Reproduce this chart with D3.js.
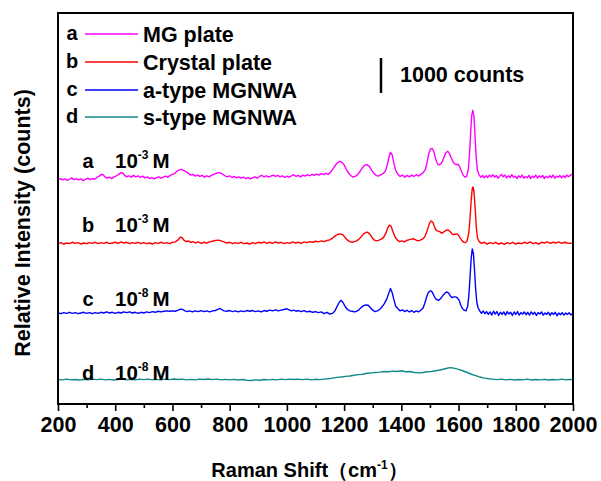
<!DOCTYPE html>
<html>
<head>
<meta charset="utf-8">
<script src="https://cdn.jsdelivr.net/npm/d3@7"></script>
<style>
  body { margin: 0; background: #fff; }
  text { font-family: "Liberation Sans", Arial, sans-serif; font-weight: bold; fill: #000; }
</style>
</head>
<body>
<div id="chart"></div>
<script>
// ---- data (counts above each trace's baseline) ----
const seriesNames = ["MG plate", "Crystal plate", "a-type MGNWA", "s-type MGNWA"]
const seriesLetters = ["a", "b", "c", "d"]
const concLabels = ["-3", "-3", "-8", "-8"]
const offsets = [6500, 4600, 2600, 700]
const colors = ["#ff00ff", "#ff0000", "#0000ff", "#128a8a"]
const xTicks = [200, 400, 600, 800, 1000, 1200, 1400, 1600, 1800, 2000]
const xMinorTicks = [300, 500, 700, 900, 1100, 1300, 1500, 1700, 1900]

const spectrumA = [[200,-90],[208,-60],[216,-100],[224,-70],[232,-110],[240,-80],[248,-40],[256,-90],[264,-60],[272,-100],[280,-70],[288,-120],[296,-80],[304,-50],[312,-90],[320,-60],[328,-80],[336,-30],[344,10],[352,60],[358,50],[364,-10],[372,-50],[380,-20],[388,-60],[396,-10],[404,20],[412,60],[420,110],[426,100],[432,40],[440,-10],[448,20],[456,-20],[464,30],[472,-10],[480,20],[488,-30],[496,10],[504,-40],[512,-10],[520,-60],[528,-30],[536,-70],[544,-40],[552,-10],[560,-50],[568,-20],[576,10],[584,-20],[592,30],[600,60],[608,90],[616,150],[624,190],[632,200],[640,170],[648,130],[656,90],[664,40],[672,60],[680,10],[688,40],[696,0],[704,30],[712,-20],[720,20],[728,-10],[736,30],[744,60],[752,90],[760,110],[768,100],[776,60],[784,20],[792,-10],[800,20],[808,-30],[816,0],[824,-40],[832,-10],[840,-50],[848,-20],[856,-60],[864,-30],[872,-70],[880,-40],[888,-10],[896,-50],[904,0],[912,30],[920,-10],[928,20],[936,-20],[944,10],[952,40],[960,0],[968,30],[976,-10],[984,20],[992,-30],[1000,10],[1008,-20],[1016,20],[1024,50],[1032,0],[1040,30],[1048,-10],[1056,40],[1064,10],[1072,50],[1080,20],[1088,60],[1096,30],[1104,70],[1112,40],[1120,80],[1128,50],[1136,90],[1144,60],[1152,120],[1160,200],[1168,300],[1176,390],[1184,430],[1192,410],[1200,330],[1208,200],[1216,90],[1224,20],[1232,-20],[1240,10],[1248,60],[1256,150],[1264,250],[1272,320],[1280,340],[1288,290],[1296,180],[1304,90],[1312,30],[1320,10],[1328,50],[1336,80],[1344,150],[1350,300],[1356,520],[1362,690],[1368,620],[1374,380],[1380,180],[1388,60],[1396,0],[1404,40],[1412,-20],[1420,30],[1428,-10],[1436,40],[1444,0],[1452,50],[1460,10],[1468,60],[1476,100],[1484,200],[1490,400],[1496,650],[1502,790],[1508,800],[1514,700],[1520,500],[1526,360],[1532,330],[1538,360],[1544,440],[1550,580],[1556,680],[1562,720],[1568,660],[1574,540],[1580,430],[1586,360],[1592,340],[1598,350],[1604,280],[1610,150],[1616,40],[1622,-20],[1628,0],[1634,200],[1638,600],[1642,1200],[1646,1750],[1650,1890],[1654,1700],[1658,1100],[1662,500],[1666,180],[1672,40],[1678,-20],[1684,30],[1690,-40],[1696,20],[1702,-30],[1708,40],[1714,-10],[1720,50],[1726,-20],[1732,30],[1738,-50],[1744,10],[1750,60],[1756,-10],[1762,40],[1768,-40],[1774,20],[1780,-30],[1786,50],[1792,-20],[1798,10],[1804,-60],[1810,20],[1816,-30],[1822,40],[1828,-50],[1834,0],[1840,-40],[1846,30],[1852,-60],[1858,10],[1864,-30],[1870,40],[1876,-50],[1882,20],[1888,-20],[1894,30],[1900,-60],[1906,10],[1912,-40],[1918,20],[1924,-30],[1930,40],[1936,-50],[1942,10],[1948,-20],[1954,30],[1960,-40],[1966,20],[1972,-30],[1978,40],[1984,-10],[1990,30],[1996,60],[2000,80]]

const spectrumB = [[200,-20],[210,10],[220,-30],[230,0],[240,-20],[250,20],[260,-10],[270,10],[280,-30],[290,0],[300,-20],[310,10],[320,-10],[330,20],[340,-20],[350,10],[360,-10],[370,20],[380,-20],[390,0],[400,20],[410,-10],[420,30],[430,0],[440,20],[450,-20],[460,10],[470,-10],[480,20],[490,-20],[500,10],[510,-20],[520,0],[530,-30],[540,10],[550,-10],[560,20],[570,-10],[580,10],[590,-20],[600,20],[610,30],[620,90],[628,170],[634,150],[640,80],[648,40],[656,60],[664,20],[672,40],[680,0],[690,30],[700,-10],[710,20],[720,0],[730,30],[740,50],[750,70],[760,80],[770,60],[780,30],[790,0],[800,20],[810,-20],[820,10],[830,-10],[840,20],[850,-20],[860,0],[870,-30],[880,10],[890,-20],[900,20],[910,0],[920,30],[930,-10],[940,20],[950,-10],[960,30],[970,0],[980,20],[990,-20],[1000,10],[1010,-10],[1020,30],[1030,0],[1040,20],[1050,-10],[1060,30],[1070,10],[1080,40],[1090,20],[1100,50],[1110,30],[1120,60],[1130,40],[1140,70],[1150,90],[1160,140],[1170,210],[1180,250],[1188,260],[1196,230],[1204,150],[1212,80],[1220,40],[1228,20],[1236,40],[1244,60],[1252,110],[1260,180],[1268,260],[1276,300],[1282,310],[1290,250],[1298,150],[1306,80],[1314,60],[1322,80],[1330,110],[1338,160],[1346,280],[1352,420],[1358,510],[1364,480],[1370,340],[1378,170],[1386,80],[1394,40],[1402,60],[1410,30],[1418,70],[1426,90],[1434,110],[1442,120],[1450,90],[1458,60],[1466,80],[1474,110],[1482,180],[1490,340],[1498,560],[1504,630],[1510,590],[1516,460],[1522,360],[1528,340],[1534,330],[1540,280],[1546,300],[1552,340],[1558,370],[1564,370],[1570,330],[1576,270],[1582,240],[1588,250],[1594,260],[1600,220],[1606,140],[1612,70],[1618,20],[1624,10],[1630,60],[1636,300],[1640,700],[1644,1200],[1648,1560],[1651,1600],[1654,1450],[1658,1000],[1662,450],[1666,150],[1672,40],[1680,-10],[1690,20],[1700,-30],[1710,10],[1720,-20],[1730,20],[1740,-30],[1750,0],[1760,-40],[1770,10],[1780,-20],[1790,20],[1800,-30],[1810,0],[1820,-20],[1830,20],[1840,-10],[1850,30],[1860,-20],[1870,10],[1880,-30],[1890,20],[1900,0],[1910,30],[1920,-10],[1930,20],[1940,0],[1950,30],[1960,-10],[1970,20],[1980,0],[1990,-10],[2000,10]]

const spectrumC = [[200,0],[210,-20],[220,10],[230,-10],[240,20],[250,-10],[260,10],[270,-20],[280,0],[290,20],[300,-10],[310,10],[320,-20],[330,10],[340,-10],[350,20],[360,0],[370,30],[380,0],[390,20],[400,-10],[410,20],[420,0],[430,30],[440,10],[450,30],[460,0],[470,20],[480,-10],[490,20],[500,0],[510,30],[520,10],[530,40],[540,20],[550,50],[560,30],[570,50],[580,60],[590,50],[600,60],[610,50],[620,80],[628,110],[636,100],[644,60],[652,40],[660,60],[670,30],[680,60],[690,40],[700,70],[710,40],[720,60],[730,30],[740,60],[750,70],[760,110],[766,130],[772,100],[780,60],[790,50],[800,70],[810,40],[820,60],[830,30],[840,60],[850,40],[860,70],[870,50],[880,70],[890,40],[900,60],[910,30],[920,70],[930,50],[940,80],[950,60],[960,90],[970,60],[980,80],[990,100],[1000,120],[1008,90],[1016,60],[1024,80],[1032,50],[1040,70],[1050,40],[1060,70],[1070,30],[1080,50],[1090,20],[1100,40],[1110,10],[1120,30],[1130,-20],[1140,20],[1150,-30],[1160,-10],[1168,60],[1176,200],[1184,320],[1190,360],[1196,300],[1204,180],[1212,100],[1220,60],[1228,50],[1236,30],[1244,50],[1252,90],[1260,160],[1268,210],[1276,230],[1284,220],[1292,150],[1300,80],[1308,40],[1316,60],[1324,100],[1332,170],[1340,260],[1348,380],[1356,560],[1362,700],[1368,580],[1374,380],[1380,200],[1388,120],[1396,60],[1404,90],[1412,40],[1420,80],[1428,30],[1436,70],[1444,20],[1452,60],[1460,30],[1468,80],[1476,140],[1482,280],[1488,450],[1494,580],[1500,630],[1506,620],[1512,530],[1518,430],[1524,380],[1530,360],[1536,400],[1542,460],[1548,530],[1554,580],[1560,600],[1566,560],[1572,480],[1578,440],[1584,460],[1590,460],[1596,430],[1602,360],[1608,220],[1614,120],[1620,80],[1626,60],[1632,200],[1636,500],[1640,1000],[1644,1550],[1648,1830],[1652,1700],[1656,1200],[1660,650],[1664,300],[1668,150],[1674,60],[1680,-10],[1686,60],[1692,-20],[1698,40],[1704,-40],[1710,30],[1716,-60],[1722,50],[1728,-30],[1734,40],[1740,-70],[1746,20],[1752,-40],[1758,30],[1764,-60],[1770,40],[1776,-30],[1782,20],[1788,-70],[1794,30],[1800,-40],[1806,40],[1812,-60],[1818,10],[1824,-30],[1830,30],[1836,-50],[1842,20],[1848,-60],[1854,30],[1860,-40],[1866,20],[1872,-70],[1878,10],[1884,-30],[1890,30],[1896,-60],[1902,0],[1908,-40],[1914,20],[1920,-70],[1926,10],[1932,-40],[1938,20],[1944,-80],[1950,0],[1956,-50],[1962,10],[1968,-60],[1974,0],[1980,-40],[1986,10],[1992,-50],[2000,-20]]

const spectrumD = [[200,0],[215,-10],[230,10],[245,-10],[260,0],[275,-15],[290,5],[305,-10],[320,10],[335,-5],[350,10],[365,-10],[380,5],[395,-15],[410,0],[425,10],[440,-10],[455,5],[470,-10],[485,10],[500,-5],[515,10],[530,-10],[545,5],[560,-10],[575,10],[590,-5],[605,15],[620,0],[635,10],[650,-10],[665,5],[680,-10],[695,10],[710,0],[725,15],[740,-5],[755,10],[770,-10],[785,5],[800,-10],[815,5],[830,-15],[845,0],[860,-20],[875,-30],[890,-10],[905,-20],[920,0],[935,-10],[950,5],[965,-10],[980,10],[995,-5],[1010,10],[1025,0],[1040,10],[1055,-5],[1070,10],[1085,-10],[1100,5],[1115,-5],[1130,10],[1145,20],[1160,40],[1175,60],[1190,70],[1205,90],[1220,100],[1235,120],[1250,140],[1265,150],[1280,180],[1295,190],[1310,200],[1325,210],[1340,230],[1355,220],[1370,240],[1385,230],[1400,250],[1415,220],[1430,230],[1445,200],[1460,190],[1475,200],[1490,220],[1505,230],[1520,250],[1535,270],[1550,300],[1560,320],[1570,340],[1580,330],[1590,310],[1600,290],[1615,250],[1630,200],[1645,150],[1660,110],[1675,70],[1690,40],[1705,20],[1720,10],[1735,-5],[1750,10],[1765,-10],[1780,5],[1795,-15],[1810,0],[1825,-10],[1840,10],[1855,-15],[1870,0],[1885,-10],[1900,5],[1915,-15],[1930,0],[1945,-10],[1960,10],[1975,-10],[1990,0],[2000,-5]]

const spectra = [spectrumA, spectrumB, spectrumC, spectrumD]

// ---- layout ----
const W = 601, H = 481
const margin = { top: 13, right: 28, bottom: 77, left: 58 }
const width = W - margin.left - margin.right
const height = H - margin.top - margin.bottom

const svg = d3.select("#chart").append("svg")
    .attr("width", W)
    .attr("height", H)

const g = svg.append("g")
    .attr("transform", "translate(" + margin.left + "," + margin.top + ")")

const x = d3.scaleLinear().domain([200, 2000]).range([0, width])
// 1000 counts is about 35px tall
const y = d3.scaleLinear().domain([0, 11170]).range([height, 0])

// traces
const line = d3.line()
    .x(d => x(d[0]))
    .y(d => y(d[1]))

spectra.forEach((s, i) => {
  g.append("path")
    .datum(s.map(p => [p[0], p[1] + offsets[i]]))
    .attr("fill", "none")
    .attr("stroke", colors[i])
    .attr("stroke-width", 1.4)
    .attr("stroke-linejoin", "round")
    .attr("d", line)
})

// x axis: major + minor ticks
const xAxis = g.append("g")
    .attr("transform", "translate(0," + height + ")")
    .call(d3.axisBottom(x).tickValues(xTicks).tickSize(7).tickPadding(6).tickFormat(d3.format("d")))
xAxis.select(".domain").remove()
xAxis.selectAll("line").attr("stroke", "#000").attr("stroke-width", 1.6)
xAxis.selectAll("text")
    .style("font-size", "21.5px")
    .style("font-family", "'Liberation Sans', Arial, sans-serif")
    .style("font-weight", "bold")
    .attr("fill", "#000")

const xMinor = g.append("g")
    .attr("transform", "translate(0," + height + ")")
    .call(d3.axisBottom(x).tickValues(xMinorTicks).tickSize(4).tickFormat(""))
xMinor.select(".domain").remove()
xMinor.selectAll("line").attr("stroke", "#000").attr("stroke-width", 1.6)

// frame
g.append("rect")
    .attr("x", 0).attr("y", 0)
    .attr("width", width).attr("height", height)
    .attr("fill", "none")
    .attr("stroke", "#000")
    .attr("stroke-width", 2)

// axis titles
const xt = svg.append("text")
    .attr("x", margin.left + width / 2 - 6)
    .attr("y", 477)
    .attr("text-anchor", "middle")
    .style("font-size", "20px")
xt.append("tspan").text("Raman Shift（cm")
xt.append("tspan").attr("dy", -8).style("font-size", "12px").text("-1")
xt.append("tspan").attr("dy", 8).text("）")

svg.append("text")
    .attr("transform", "translate(30,223) rotate(-90)")
    .attr("text-anchor", "middle")
    .style("font-size", "21.5px")
    .text("Relative Intensity (counts)")

// legend
const legendY = [34, 62, 90, 117]
seriesNames.forEach((name, i) => {
  const ly = legendY[i]
  svg.append("text")
      .attr("x", 72).attr("y", ly + 6)
      .attr("text-anchor", "middle")
      .style("font-size", "20px")
      .text(seriesLetters[i])
  svg.append("line")
      .attr("x1", 85).attr("x2", 138)
      .attr("y1", ly).attr("y2", ly)
      .attr("stroke", colors[i])
      .attr("stroke-width", 1.5)
  svg.append("text")
      .attr("x", 143).attr("y", ly + 8)
      .style("font-size", "21.5px")
      .text(name)
})

// scale bar: 1000 counts
const barX = margin.left + 323
const barTop = 58
g.append("line")
    .attr("x1", barX - margin.left).attr("x2", barX - margin.left)
    .attr("y1", barTop - margin.top)
    .attr("y2", barTop - margin.top + (y(0) - y(1000)))
    .attr("stroke", "#000")
    .attr("stroke-width", 2.5)
svg.append("text")
    .attr("x", 400).attr("y", 82)
    .style("font-size", "21.5px")
    .text("1000 counts")

// trace labels
const labelY = [161, 225, 299, 373]
seriesLetters.forEach((l, i) => {
  svg.append("text")
      .attr("x", 88).attr("y", labelY[i] + 7)
      .attr("text-anchor", "middle")
      .style("font-size", "20px")
      .text(l)
  const t = svg.append("text")
      .attr("x", 115).attr("y", labelY[i] + 7)
      .style("font-size", "20.5px")
  t.append("tspan").text("10")
  t.append("tspan").attr("dy", -9).style("font-size", "12px").text(concLabels[i])
  t.append("tspan").attr("dy", 9).attr("dx", 4).text("M")
})
</script>
</body>
</html>
